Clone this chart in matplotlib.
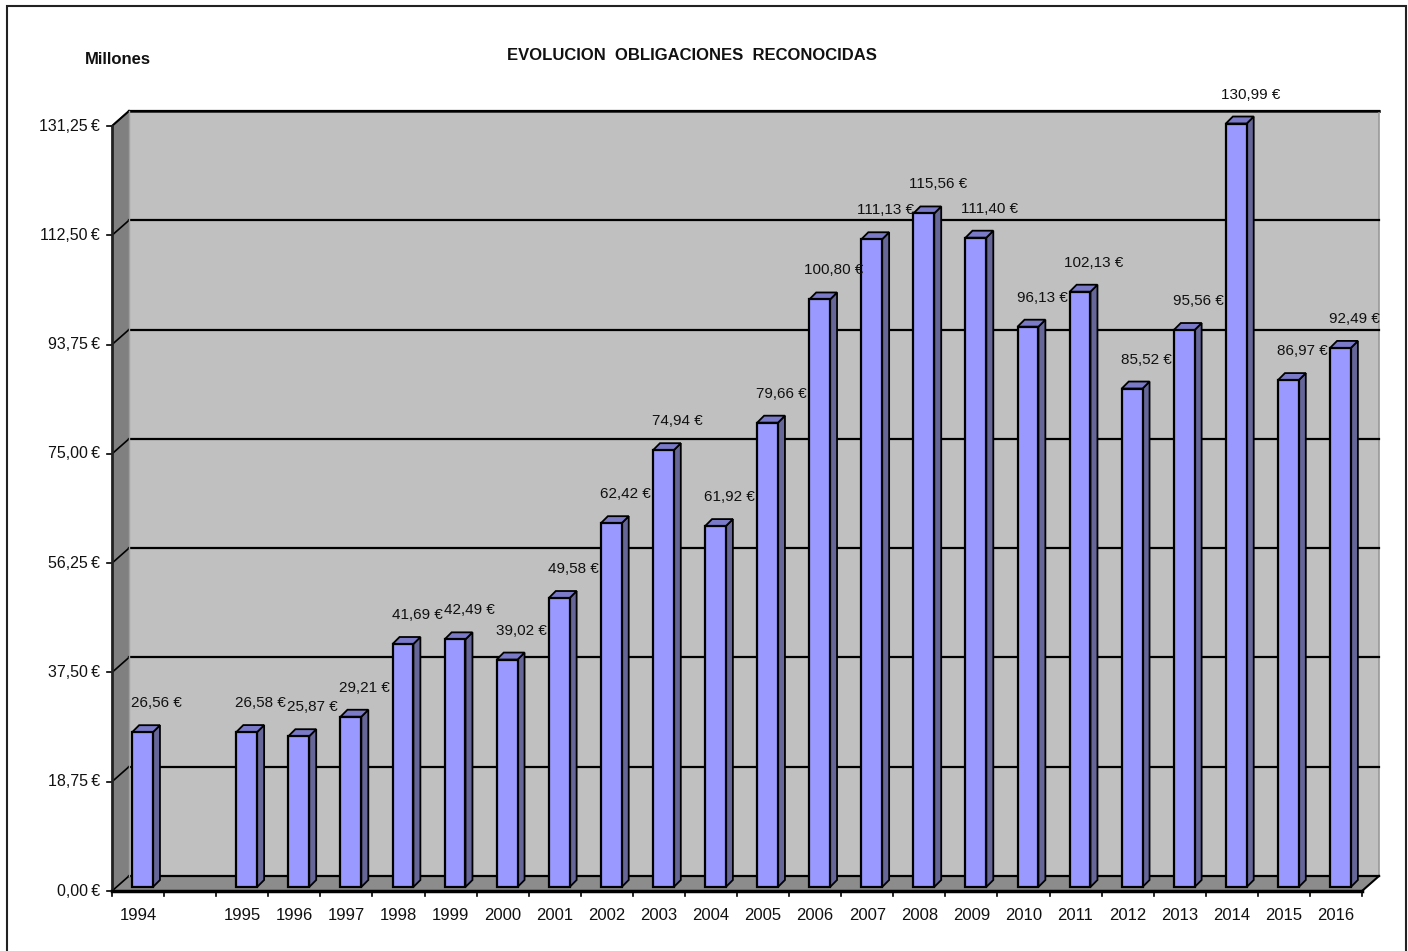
import matplotlib
matplotlib.use("Agg")
import matplotlib.pyplot as plt
from matplotlib.patches import Polygon, Rectangle
import numpy as np

plt.rcParams['font.family'] = ['Liberation Sans', 'DejaVu Sans']

# ---------------- data ----------------
categories = ["1994", "", "1995", "1996", "1997", "1998", "1999", "2000", "2001",
              "2002", "2003", "2004", "2005", "2006", "2007", "2008", "2009",
              "2010", "2011", "2012", "2013", "2014", "2015", "2016"]
values = [26.56, None, 26.58, 25.87, 29.21, 41.69, 42.49, 39.02, 49.58,
          62.42, 74.94, 61.92, 79.66, 100.80, 111.13, 115.56, 111.40,
          96.13, 102.13, 85.52, 95.56, 130.99, 86.97, 92.49]
y_ticks = [0.0, 18.75, 37.5, 56.25, 75.0, 93.75, 112.5, 131.25]
title = "EVOLUCION  OBLIGACIONES  RECONOCIDAS"
unit_label = "Millones"


def euro(v):
    return f"{v:.2f}".replace('.', ',') + " €"


# ---------------- figure / layout ----------------
W, H = 1408, 951
fig = plt.figure(figsize=(W / 100, H / 100), dpi=100)
fig.patch.set_facecolor('white')

left_px, right_px = 112, 1362
zero_px, top_px = 891, 126          # pixel rows (from top) of 0 and ymax on front plane
ymax = y_ticks[-1]
n = len(categories)

ax = fig.add_axes([left_px / W, (H - zero_px) / H,
                   (right_px - left_px) / W, (zero_px - top_px) / H])
ax.set_xlim(0, n)
ax.set_ylim(0, ymax)
ax.axis('off')

px = n / (right_px - left_px)        # data units per pixel in x
py = ymax / (zero_px - top_px)       # data units per pixel in y

DX, DY = 17 * px, 15 * py            # wall depth
BX, BY = 4.5 * px, 4 * py            # bar placement inside depth
BDX, BDY = 7 * px, 7 * py            # bar depth
bar_w = 0.40

wall_c = '#c0c0c0'
side_wall_c = '#808080'
floor_c = '#8c8c8c'
bar_front = '#9999ff'
bar_side = '#666699'
bar_top = '#7a7ac8'

# back wall
ax.add_patch(Polygon([(DX, DY), (n + DX, DY), (n + DX, ymax + DY), (DX, ymax + DY)],
                     closed=True, facecolor=wall_c, edgecolor='none', clip_on=False, zorder=1))
# top edge of back wall
ax.plot([DX, n + DX], [ymax + DY, ymax + DY], color='#333333', lw=2, clip_on=False, zorder=2)
ax.plot([n + DX, n + DX], [DY, ymax + DY], color='#999999', lw=1.2, clip_on=False, zorder=2)
# left side wall
ax.add_patch(Polygon([(0, 0), (0, ymax), (DX, ymax + DY), (DX, DY)],
                     closed=True, facecolor=side_wall_c, edgecolor='none', clip_on=False, zorder=1))
ax.plot([0, DX], [ymax, ymax + DY], color='#333333', lw=1.5, clip_on=False, zorder=2)
# floor
ax.add_patch(Polygon([(0, 0), (n, 0), (n + DX, DY), (DX, DY)],
                     closed=True, facecolor=floor_c, edgecolor='none', clip_on=False, zorder=1))

# gridlines on back wall + diagonals on side wall + ticks
for t in y_ticks:
    ax.plot([DX, n + DX], [t + DY, t + DY], color='black', lw=1.6, clip_on=False, zorder=2)
    ax.plot([0, DX], [t, t + DY], color='black', lw=1.2, clip_on=False, zorder=2)
    ax.plot([-5 * px, 0], [t, t], color='black', lw=1.2, clip_on=False, zorder=5)
    ax.text(-12 * px, t, euro(t).replace(" €", "\u2009€"), ha='right', va='center',
            fontsize=11.5, color='#111111', clip_on=False)

# floor edges
ax.plot([n, n + DX], [0, DY], color='black', lw=1.5, clip_on=False, zorder=5)
ax.plot([DX, DX], [DY, ymax + DY], color='#a0a0a0', lw=1.0, clip_on=False, zorder=2)

# bars
for i, v in enumerate(values):
    if v is None:
        continue
    x0 = i + 0.5 - bar_w / 2 + BX
    x1 = x0 + bar_w
    y0 = BY
    y1 = v + BY
    # side face
    ax.add_patch(Polygon([(x1, y0), (x1 + BDX, y0 + BDY), (x1 + BDX, y1 + BDY), (x1, y1)],
                         closed=True, facecolor=bar_side, edgecolor='black', lw=1.3,
                         clip_on=False, zorder=3))
    # top face
    ax.add_patch(Polygon([(x0, y1), (x1, y1), (x1 + BDX, y1 + BDY), (x0 + BDX, y1 + BDY)],
                         closed=True, facecolor=bar_top, edgecolor='black', lw=1.3,
                         clip_on=False, zorder=3))
    # front face
    ax.add_patch(Rectangle((x0, y0), bar_w, v, facecolor=bar_front, edgecolor='black',
                           lw=1.6, clip_on=False, zorder=4))
    # value label
    ax.text((x0 + x1) / 2 + 14 * px, y1 + 29 * py, euro(v), ha='center', va='center',
            fontsize=11, color='#111111', clip_on=False, zorder=6)

# front axes lines
ax.plot([0, 0], [0, ymax], color='#222222', lw=2, clip_on=False, zorder=5)
ax.plot([0, n], [0, 0], color='black', lw=2.5, clip_on=False, zorder=5)
for i in range(n + 1):
    ax.plot([i, i], [0, -5 * py], color='black', lw=1.2, clip_on=False, zorder=5)
for i, c in enumerate(categories):
    ax.text(i + 0.5, -25 * py, c, ha='center', va='center', fontsize=12,
            color='#111111', clip_on=False)

# titles
fig.text(692 / W, 1 - 55 / H, title, ha='center', va='center', fontsize=12,
         fontweight='bold', color='#111111')
fig.text(118 / W, 1 - 60 / H, unit_label, ha='center', va='center', fontsize=12,
         fontweight='bold', color='#111111')

# outer frame
fig.add_artist(Rectangle((7 / W, -0.01), (1406 - 7) / W, (H - 6) / H + 0.01,
                         transform=fig.transFigure, fill=False, edgecolor='#222222',
                         lw=1.5))

fig.savefig("out.png", dpi=100)
